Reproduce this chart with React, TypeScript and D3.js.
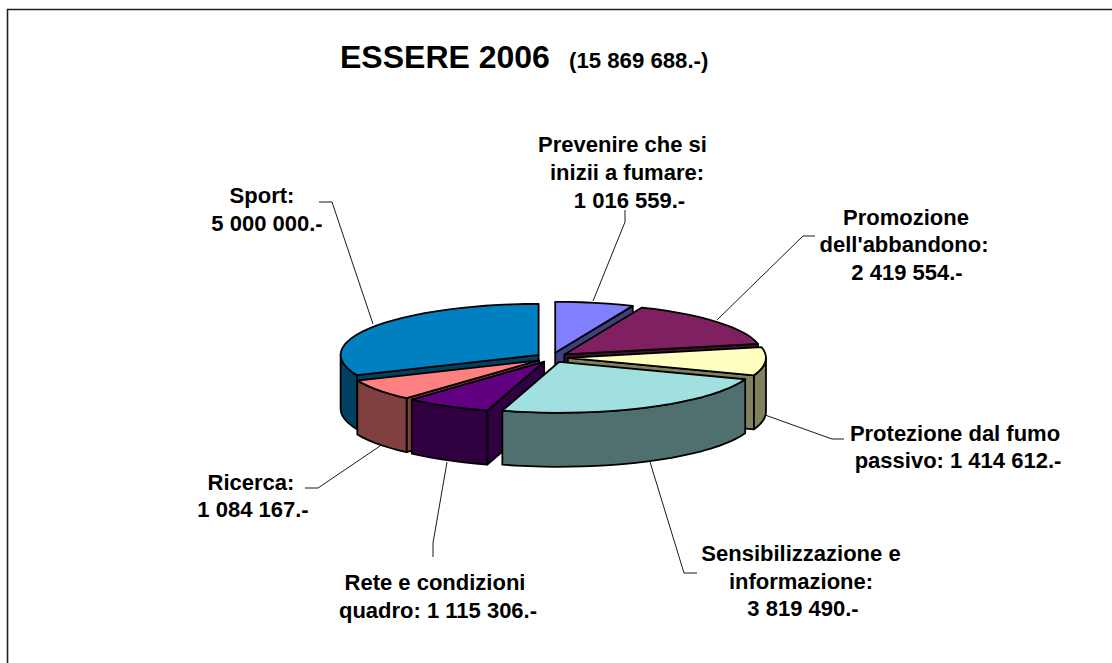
import React from "react";
import * as d3 from "d3";

const categories = ["Prevenire", "Promozione", "Protezione", "Sensibilizzazione", "Rete", "Ricerca", "Sport"];
const values = [1016559, 2419554, 1414612, 3819490, 1115306, 1084167, 5000000];
const topColors = ["#8080FF", "#802060", "#FFFFC0", "#A0E0E0", "#600080", "#FF8080", "#0080C0"];
const sideColors = ["#404080", "#401030", "#808060", "#507070", "#300040", "#804040", "#004060"];
const labelLines = [
  ["Prevenire che si", "inizii a fumare:", "1 016 559.-"],
  ["Promozione", "dell'abbandono:", "2 419 554.-"],
  ["Protezione dal fumo", "passivo: 1 414 612.-"],
  ["Sensibilizzazione e", "informazione:", "3 819 490.-"],
  ["Rete e condizioni", "quadro: 1 115 306.-"],
  ["Ricerca:", "1 084 167.-"],
  ["Sport:", "5 000 000.-"],
];
const labelCenters = [
  [622.5, 627, 629.5], [906, 904, 907], [955, 958], [801, 801, 803], [435, 438], [251, 253], [262, 267],
];
const labelBaselines = [
  [152, 180, 207.5], [225, 252, 280], [440.5, 468], [561, 589, 616], [590, 618], [490, 517], [203, 231],
];
const leaders: [number, number][][] = [
  [[625, 210], [625, 222], [593, 301]],
  [[815, 236], [803, 236], [717, 320]],
  [[844, 439], [832, 439], [765, 415]],
  [[697, 573], [684, 573], [650, 462]],
  [[433, 557], [433, 543], [447, 462]],
  [[305, 488], [318, 488], [380, 446]],
  [[319, 202], [332, 202], [373, 324]],
];

const W = 1112, H = 663;
const cx = 552, cy = 357.5, rx = 198, ry = 51, depth = 54, explode = 16, explodeY = 0.3;
const FONT = "'Liberation Sans', Arial, sans-serif";

const line = d3.line<[number, number]>();

export default function App() {
  const arcs = d3.pie<number>().sort(null)(values);
  const rScale = d3.scaleLinear().domain([0, 1]).range([0, rx]);
  const ryScale = d3.scaleLinear().domain([0, 1]).range([0, ry]);

  const slices = arcs.map((a, i) => {
    const mid = (a.startAngle + a.endAngle) / 2;
    const ax = cx + explode * Math.sin(mid);
    const ay = cy - explode * explodeY * Math.cos(mid);
    const pt = (t: number, d = 0): [number, number] => [
      ax + rScale(Math.sin(t)),
      ay - ryScale(Math.cos(t)) + d,
    ];
    const step = (4 * Math.PI) / 180;
    const n = Math.max(2, Math.ceil((a.endAngle - a.startAngle) / step));
    const ts = d3.range(n + 1).map((k) => a.startAngle + ((a.endAngle - a.startAngle) * k) / n);
    const top: [number, number][] = [[ax, ay], ...ts.map((t) => pt(t))];
    // only the radial walls that face the viewer are drawn
    const radialAngles: number[] = [];
    if (Math.sin(a.startAngle) < -1e-6) radialAngles.push(a.startAngle);
    if (Math.sin(a.endAngle) > 1e-6) radialAngles.push(a.endAngle);
    const radial = radialAngles.map((t): [number, number][] => [
      [ax, ay], pt(t), pt(t, depth), [ax, ay + depth],
    ]);
    const s0 = Math.max(a.startAngle, Math.PI / 2);
    const s1 = Math.min(a.endAngle, (3 * Math.PI) / 2);
    let outer: [number, number][] | null = null;
    if (s1 > s0) {
      const m = Math.max(2, Math.ceil((s1 - s0) / step));
      const os = d3.range(m + 1).map((k) => s0 + ((s1 - s0) * k) / m);
      outer = [...os.map((t) => pt(t)), ...os.slice().reverse().map((t) => pt(t, depth))];
    }
    return { i, mid, top, radial, outer };
  });
  const order = slices.slice().sort((p, q) => Math.cos(q.mid) - Math.cos(p.mid));

  return (
    <svg width={W} height={H} viewBox={`0 0 ${W} ${H}`}
      style={{ position: "absolute", left: 0, top: 0, background: "#fff" }}>
      <path d={`M7.5 ${H}V9.5H${W}`} fill="none" stroke="#222" strokeWidth={1.6} />
      {order.map((s) => (
        <g key={categories[s.i]} stroke="#000" strokeWidth={1.8} strokeLinejoin="round">
          {s.radial.map((r, k) => (
            <path key={k} d={line(r) + "Z"} fill={sideColors[s.i]} />
          ))}
          {s.outer && <path d={line(s.outer) + "Z"} fill={sideColors[s.i]} />}
          <path d={line(s.top) + "Z"} fill={topColors[s.i]} />
        </g>
      ))}
      {leaders.map((l, i) => (
        <path key={i} d={line(l)!} fill="none" stroke="#000" strokeWidth={0.9} />
      ))}
      <g fontFamily={FONT} fontWeight="bold" fill="#000">
        <text x={340} y={68} fontSize={32}>ESSERE 2006</text>
        <text x={569} y={68} fontSize={22.2}>(15 869 688.-)</text>
        {labelLines.map((ls, i) => (
          <g key={i} fontSize={22} textAnchor="middle">
            {ls.map((t, k) => (
              <text key={k} x={labelCenters[i][k]} y={labelBaselines[i][k]}>{t}</text>
            ))}
          </g>
        ))}
      </g>
    </svg>
  );
}
